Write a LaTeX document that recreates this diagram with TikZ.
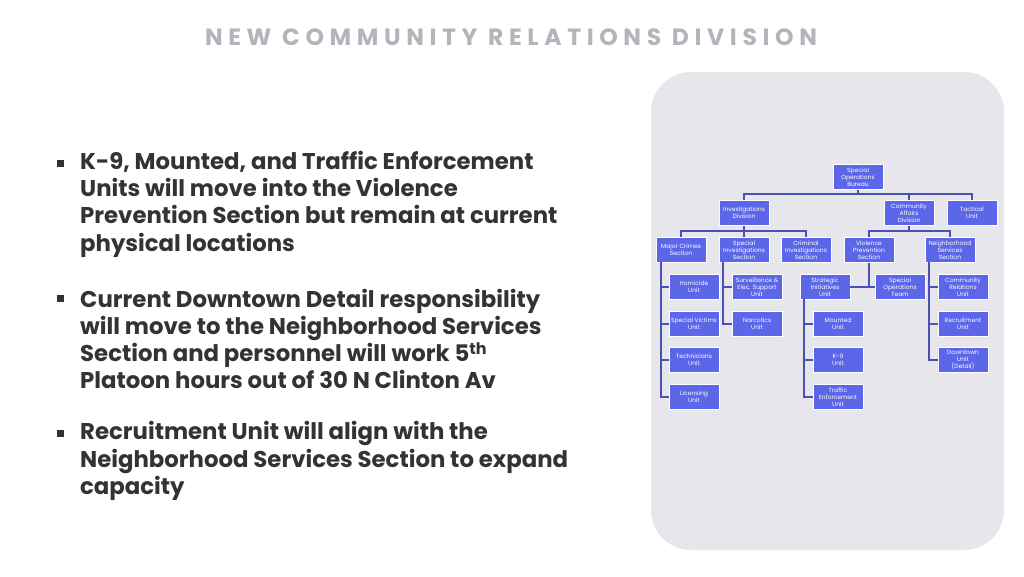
\documentclass[tikz,border=0pt]{standalone}
\usepackage{fontspec}
\setmainfont{Poppins}
\definecolor{boxc}{HTML}{5B67E8}
\definecolor{linec}{HTML}{4A50B5}
\definecolor{panel}{HTML}{E6E6EB}
\definecolor{titlec}{HTML}{B4B4BC}
\definecolor{txt}{HTML}{333333}
\begin{document}
\begin{tikzpicture}[x=1pt,y=-1pt,
  ob/.style={draw=white,line width=0.6pt,fill=boxc,text=white,minimum width=50pt,minimum height=24.5pt,inner sep=0pt,align=center,font=\fontsize{6}{6.9}\selectfont},
  ln/.style={draw=linec,line width=1.1pt},
  bl/.style={anchor=west,text=txt,font=\bfseries\fontsize{22.8}{27.3}\selectfont,align=left,inner sep=0pt}]
\useasboundingbox (0,0) rectangle (1024,576);
\fill[white] (0,0) rectangle (1024,576);
\node[text=titlec,font=\bfseries\fontsize{23.5}{24}\selectfont] (title) at (511,37) {\addfontfeature{LetterSpace=24}NEW COMMUNITY RELATIONS DIVISION};
\fill[panel,rounded corners=40pt] (651,72) rectangle (1004,550);
% bullets
\foreach \y in {163,298,433} \fill[txt] (56.5,\y-3.5) rectangle +(7,7);
\node[bl] (b1) at (80,204) {K-9, Mounted, and Traffic Enforcement\\Units will move into the Violence\\Prevention Section but remain at current\\physical locations};
\node[bl] (b2) at (80,339) {Current Downtown Detail responsibility\\will move to the Neighborhood Services\\Section and personnel will work 5\textsuperscript{th}\\Platoon hours out of 30 N Clinton Av};
\node[bl] (b3) at (80,461) {Recruitment Unit will align with the\\Neighborhood Services Section to expand\\capacity};
% org nodes
\node[ob] (sob) at (858,177) {Special\\Operations\\Bureau};
\node[ob] (inv) at (744,213) {Investigations\\Division};
\node[ob] (caf) at (909,213) {Community\\Affairs\\Division};
\node[ob] (tac) at (972,213) {Tactical\\Unit};
\node[ob] (mcs) at (681,250) {Major Crimes\\Section};
\node[ob] (sis) at (744,250) {Special\\Investigations\\Section};
\node[ob] (cis) at (806,250) {Criminal\\Investigations\\Section};
\node[ob] (vps) at (869,250) {Violence\\Prevention\\Section};
\node[ob] (nss) at (950,250) {Neighborhood\\Services\\Section};
\node[ob] (hom) at (694,287) {Homicide\\Unit};
\node[ob] (sur) at (757,287) {Surveillance \&\\Elec. Support\\Unit};
\node[ob] (sin) at (825,287) {Strategic\\Initiatives\\Unit};
\node[ob] (sot) at (900,287) {Special\\Operations\\Team};
\node[ob] (cru) at (963,287) {Community\\Relations\\Unit};
\node[ob] (svu) at (694,324) {Special Victims\\Unit};
\node[ob] (nar) at (757,324) {Narcotics\\Unit};
\node[ob] (mou) at (838,324) {Mounted\\Unit};
\node[ob] (rec) at (963,324) {Recruitment\\Unit};
\node[ob] (tec) at (694,360) {Technicians\\Unit};
\node[ob] (k9) at (838,360) {K-9\\Unit};
\node[ob] (dtu) at (963,360) {Downtown\\Unit\\(Detail)};
\node[ob] (lic) at (694,397) {Licensing\\Unit};
\node[ob] (tra) at (838,397) {Traffic\\Enforcement\\Unit};
% connectors
\draw[ln] (sob.south) -- (858,194);
\draw[ln] (inv.north) |- (858,194) -| (tac.north);
\draw[ln] (caf.north) -- (909,194);
\draw[ln] (inv.south) -- (744,231);
\draw[ln] (mcs.north) |- (744,231) -| (cis.north);
\draw[ln] (sis.north) -- (744,231);
\draw[ln] (caf.south) -- (909,231);
\draw[ln] (vps.north) |- (909,231) -| (nss.north);
\draw[ln] (661,262) |- (lic.west);
\foreach \n in {hom,svu,tec} \draw[ln] (\n.west) -- (661,0|-\n.west);
\draw[ln] (723,262) |- (nar.west);
\draw[ln] (sur.west) -- (723,287);
\draw[ln] (vps.south) -- (869,287);
\draw[ln] (sin.east) -- (sot.west);
\draw[ln] (804,299) |- (tra.west);
\foreach \n in {mou,k9} \draw[ln] (\n.west) -- (804,0|-\n.west);
\draw[ln] (929,262) |- (dtu.west);
\foreach \n in {cru,rec} \draw[ln] (\n.west) -- (929,0|-\n.west);
\end{tikzpicture}
\end{document}
